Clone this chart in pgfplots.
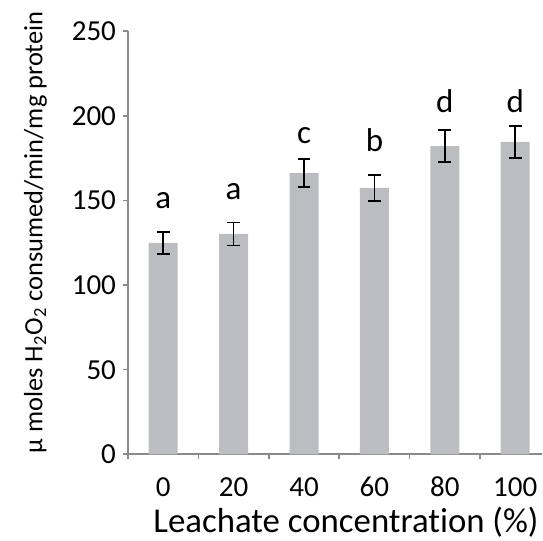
\documentclass[border=0pt]{standalone}
\usepackage{fontspec}
\setmainfont{Carlito}[Ligatures=NoCommon]
\usepackage{pgfplots}
\pgfplotsset{compat=1.18}
\definecolor{bargray}{RGB}{188,189,192}
\definecolor{axisgray}{RGB}{137,137,137}
\begin{document}
\begin{tikzpicture}
\useasboundingbox (0,0) rectangle (271.5pt,270.5pt);
\begin{axis}[
  at={(64pt,43.35pt)}, anchor=south west,
  scale only axis, width=207pt, height=211.5pt,
  xmin=-0.5, xmax=5.38, ymin=0, ymax=250,
  axis x line*=bottom, axis y line*=left,
  axis line style={axisgray, line width=0.8pt},
  every tick/.style={axisgray, line width=0.8pt},
  tick align=outside, major tick length=2.5pt, minor tick length=2.5pt,
  ytick={0,50,...,250},
  xtick={0,...,5}, xticklabels={0,20,40,60,80,100},
  minor xtick={-0.5,0.5,...,4.5},
  every major x tick/.append style={draw=none},
  font=\fontsize{14.5}{16}\selectfont,
  ticklabel style={font=\fontsize{14.5}{16}\selectfont},
  /pgf/number format/assume math mode=true,
  xticklabel style={anchor=base, yshift=-18.7pt},
  xlabel={Leachate concentration (\%)},
  ylabel={μ moles H\textsubscript{2}O\textsubscript{2} consumed/min/mg protein},
  xlabel style={font=\fontsize{17.4}{19}\selectfont, inner sep=0pt, at={(axis description cs:0.5266,-0.1844)}, anchor=base},
  ylabel style={font=\fontsize{13.2}{15}\selectfont, at={(axis description cs:-0.2068,0.525)}, anchor=base},
  clip=false,
]
\addplot[ybar, bar width=14.5pt, fill=bargray, draw=none,
  error bars/.cd, y dir=both, y explicit,
  error bar style={black, line width=0.75pt},
  error mark options={rotate=90, mark size=3.2pt, black, line width=0.75pt}]
  table[x=x, y=y, y error=e] {
x y e
0 124.9 6.5
1 130.2 6.8
2 166.3 8.3
3 157.4 7.6
4 182.2 9.4
5 184.6 9.5
};
\addplot[draw=none, mark=none, nodes near coords, point meta=explicit symbolic,
  nodes near coords style={anchor=base, font=\fontsize{16.5}{18}\selectfont, inner sep=0pt}]
  table[x=x, y=y, meta=lab] {
x y lab
0 145.0 a
1 150.7 a
2 183.8 c
3 178.8 b
4 202.1 d
5 201.9 d
};
\end{axis}
\end{tikzpicture}
\end{document}
